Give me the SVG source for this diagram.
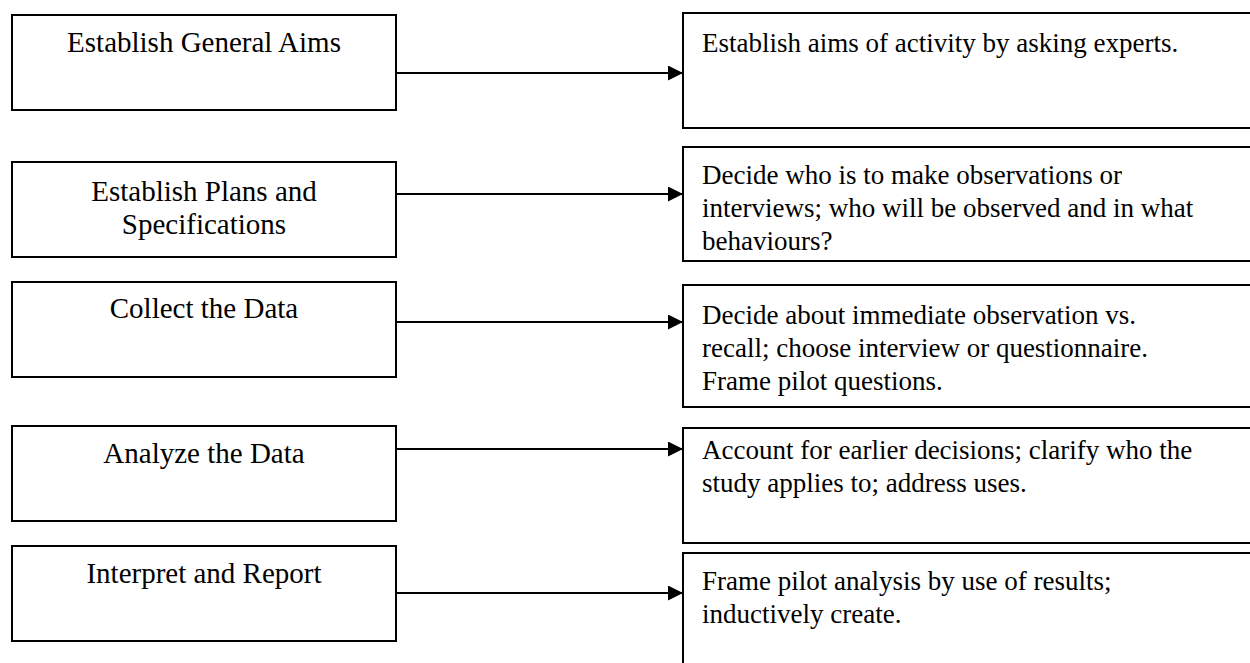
<svg xmlns="http://www.w3.org/2000/svg" width="1250" height="663" viewBox="0 0 1250 663">
<style>
.box{fill:#fff;stroke:#000;stroke-width:2}
.lt{font-family:"Liberation Serif","Times New Roman",serif;font-size:29px;fill:#000;text-anchor:middle}
.rt{font-family:"Liberation Serif","Times New Roman",serif;font-size:27px;fill:#000}
.conn{stroke:#000;stroke-width:1.8;fill:none}
</style>
<defs>
<marker id="ah" markerUnits="userSpaceOnUse" markerWidth="16" markerHeight="16" refX="15" refY="7.5" orient="auto">
<path d="M0,0 L15,7.5 L0,15 z" fill="#000"/>
</marker>
</defs>
<rect width="1250" height="663" fill="#fff"/>
<g id="step1"><rect class="box" x="12" y="15" width="384" height="95"/><text class="lt" x="204" y="52">Establish General Aims</text></g>
<g id="step2"><rect class="box" x="12" y="162" width="384" height="95"/><text class="lt" x="204" y="201">Establish Plans and</text><text class="lt" x="204" y="234">Specifications</text></g>
<g id="step3"><rect class="box" x="12" y="282" width="384" height="95"/><text class="lt" x="204" y="318">Collect the Data</text></g>
<g id="step4"><rect class="box" x="12" y="426" width="384" height="95"/><text class="lt" x="204" y="463">Analyze the Data</text></g>
<g id="step5"><rect class="box" x="12" y="546" width="384" height="95"/><text class="lt" x="204" y="583">Interpret and Report</text></g>
<g id="detail1"><rect class="box" x="683" y="13" width="600" height="115"/><text class="rt" x="702" y="52">Establish aims of activity by asking experts.</text></g>
<g id="detail2"><rect class="box" x="683" y="147" width="600" height="114"/><text class="rt" x="702" y="184">Decide who is to make observations or</text><text class="rt" x="702" y="217">interviews; who will be observed and in what</text><text class="rt" x="702" y="250">behaviours?</text></g>
<g id="detail3"><rect class="box" x="683" y="285" width="600" height="122"/><text class="rt" x="702" y="324">Decide about immediate observation vs.</text><text class="rt" x="702" y="357">recall; choose interview or questionnaire.</text><text class="rt" x="702" y="390">Frame pilot questions.</text></g>
<g id="detail4"><rect class="box" x="683" y="428" width="600" height="115"/><text class="rt" x="702" y="459">Account for earlier decisions; clarify who the</text><text class="rt" x="702" y="492">study applies to; address uses.</text></g>
<g id="detail5"><rect class="box" x="683" y="553" width="600" height="130"/><text class="rt" x="702" y="590">Frame pilot analysis by use of results;</text><text class="rt" x="702" y="623">inductively create.</text></g>
<g id="connectors">
<line class="conn" x1="396" y1="73" x2="683" y2="73" marker-end="url(#ah)"/>
<line class="conn" x1="396" y1="194" x2="683" y2="194" marker-end="url(#ah)"/>
<line class="conn" x1="396" y1="322" x2="683" y2="322" marker-end="url(#ah)"/>
<line class="conn" x1="396" y1="449" x2="683" y2="449" marker-end="url(#ah)"/>
<line class="conn" x1="396" y1="593" x2="683" y2="593" marker-end="url(#ah)"/>
</g>
</svg>
